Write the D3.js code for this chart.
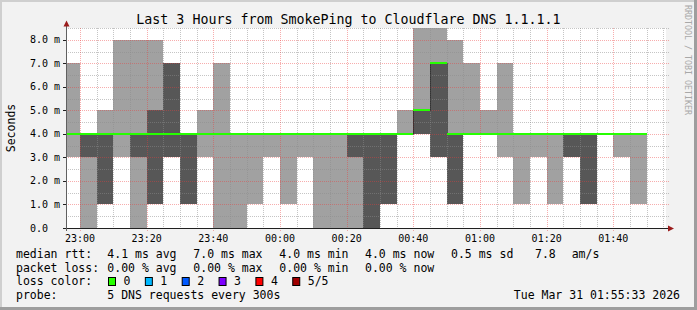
<!DOCTYPE html>
<html>
<head>
<meta charset="utf-8">
<script src="https://cdn.jsdelivr.net/npm/d3@7"></script>
<style>
  html, body { margin: 0; padding: 0; background: #f2f2f2; }
  svg text { font-family: 'DejaVu Sans Mono', monospace; }
</style>
</head>
<body>
<div id="renderer"></div>
<script>
// 5 minute steps, start time of each step
var stepStart = ['22:55', '23:00', '23:05', '23:10', '23:15', '23:20', '23:25', '23:30',
  '23:35', '23:40', '23:45', '23:50', '23:55', '00:00', '00:05', '00:10', '00:15', '00:20',
  '00:25', '00:30', '00:35', '00:40', '00:45', '00:50', '00:55', '01:00', '01:05', '01:10',
  '01:15', '01:20', '01:25', '01:30', '01:35', '01:40', '01:45'];

// sorted ping values (ms) for each step, 5 pings
var ping1 = [3, 0, 1, 3, 0, 1, 3, 1, 3, 0, 0, 1, 3, 1, 3, 0, 0, 0, 0, 1, 4, 4, 3, 1, 4, 4, 3, 1, 3, 1, 3, 1, 4, 3, 1];
var ping2 = [4, 3, 1, 4, 3, 1, 3, 1, 4, 4, 4, 4, 4, 4, 4, 4, 4, 3, 0, 1, 4, 4, 3, 1, 4, 4, 4, 4, 4, 4, 3, 1, 4, 4, 4];
var median = [4, 4, 4, 4, 4, 4, 4, 4, 4, 4, 4, 4, 4, 4, 4, 4, 4, 4, 4, 4, 4, 5, 7, 4, 4, 4, 4, 4, 4, 4, 4, 4, 4, 4, 4];
var ping4 = [4, 4, 4, 4, 4, 5, 7, 4, 4, 4, 4, 4, 4, 4, 4, 4, 4, 4, 4, 4, 4, 5, 7, 4, 4, 4, 4, 4, 4, 4, 4, 4, 4, 4, 4];
var ping5 = [7, 4, 5, 8, 8, 8, 7, 4, 5, 7, 4, 4, 4, 4, 4, 4, 4, 4, 4, 4, 5, 9, 9, 8, 7, 5, 7, 4, 4, 4, 4, 4, 4, 4, 4];

var yTicks = [0, 1, 2, 3, 4, 5, 6, 7, 8];
var yTickLabels = ['0.0', '1.0 m', '2.0 m', '3.0 m', '4.0 m', '5.0 m', '6.0 m', '7.0 m', '8.0 m'];
var xTickLabels = ['23:00', '23:20', '23:40', '00:00', '00:20', '00:40', '01:00', '01:20', '01:40'];

var rttStats = ['4.1 ms avg', '7.0 ms max', '4.0 ms min', '4.0 ms now', '0.5 ms sd', '7.8', 'am/s'];
var lossStats = ['0.00 % avg', '0.00 % max', '0.00 % min', '0.00 % now'];
var lossLabels = ['0', '1', '2', '3', '4', '5/5'];
var lossColors = ['#26ff00', '#00b8ff', '#0059ff', '#7e00ff', '#ff0000', '#a10000'];

var W = 697, H = 310;
var pLeft = 66, pRight = 666, pTop = 28, pBottom = 228;

function parseStep(s) {
  var hm = s.split(':');
  var h = +hm[0];
  return new Date(2026, 2, h >= 12 ? 30 : 31, h, +hm[1], 0);
}

var data = stepStart.map(function (s, i) {
  var t = parseStep(s);
  return {
    t0: t,
    t1: new Date(t.getTime() + 300000),
    p1: ping1[i], p2: ping2[i], med: median[i], p4: ping4[i], p5: ping5[i]
  };
});

var x = d3.scaleTime()
  .domain([new Date(2026, 2, 30, 22, 55, 48), new Date(2026, 2, 31, 1, 55, 48)])
  .range([pLeft, pRight]);
var y = d3.scaleLinear().domain([0, 8.5]).range([pBottom, pTop]);

var svg = d3.select('#renderer').append('svg')
  .attr('width', W).attr('height', H)
  .style('display', 'block');

// background + 3d frame
svg.append('rect').attr('width', W).attr('height', H).attr('fill', '#f2f2f2');
svg.append('path').attr('d', 'M0,0H' + W + 'V2H2V' + H + 'H0Z').attr('fill', '#cfcfcf');
svg.append('path').attr('d', 'M' + W + ',' + H + 'H0V' + (H - 3) + 'H' + (W - 3) + 'V0H' + W + 'Z').attr('fill', '#9e9e9e');

svg.append('defs').append('clipPath').attr('id', 'plotclip')
  .append('rect').attr('x', pLeft).attr('y', pTop)
  .attr('width', pRight - pLeft).attr('height', pBottom - pTop);

svg.append('rect')
  .attr('x', pLeft).attr('y', pTop)
  .attr('width', pRight - pLeft).attr('height', pBottom - pTop)
  .attr('fill', '#ffffff');

var smoke = svg.append('g').attr('clip-path', 'url(#plotclip)');

// smoke: outer pair light, inner pair dark
smoke.selectAll('rect.outer').data(data).enter().append('rect')
  .attr('class', 'outer')
  .attr('x', function (d) { return x(d.t0); })
  .attr('width', function (d) { return x(d.t1) - x(d.t0); })
  .attr('y', function (d) { return y(d.p5); })
  .attr('height', function (d) { return y(d.p1) - y(d.p5); })
  .attr('fill', '#a1a1a1')
  .attr('shape-rendering', 'crispEdges');

smoke.selectAll('rect.inner').data(data).enter().append('rect')
  .attr('class', 'inner')
  .attr('x', function (d) { return x(d.t0); })
  .attr('width', function (d) { return x(d.t1) - x(d.t0); })
  .attr('y', function (d) { return y(d.p4); })
  .attr('height', function (d) { return y(d.p2) - y(d.p4); })
  .attr('fill', '#575757')
  .attr('shape-rendering', 'crispEdges');

// grid on top of smoke
var minorCol = 'rgba(140,140,140,0.5)', majorCol = 'rgba(235,60,60,0.42)';
var grid = svg.append('g');
var minorY = d3.range(0, 8.51, 0.5).filter(function (v) { return v % 1 !== 0; });
grid.selectAll('line.hmin').data(minorY).enter().append('line')
  .attr('x1', pLeft).attr('x2', pRight + 3)
  .attr('y1', function (d) { return Math.round(y(d)) + 0.5; })
  .attr('y2', function (d) { return Math.round(y(d)) + 0.5; })
  .attr('stroke', minorCol).attr('stroke-dasharray', '1,1');

var minorX = x.ticks(d3.timeMinute.every(5)).filter(function (t) { return t.getMinutes() % 20 !== 0; });
grid.selectAll('line.vmin').data(minorX).enter().append('line')
  .attr('x1', function (d) { return Math.round(x(d)) + 0.5; })
  .attr('x2', function (d) { return Math.round(x(d)) + 0.5; })
  .attr('y1', pTop).attr('y2', pBottom)
  .attr('stroke', minorCol).attr('stroke-dasharray', '1,1');

grid.selectAll('line.hmaj').data(yTicks.slice(1)).enter().append('line')
  .attr('x1', pLeft).attr('x2', pRight + 3)
  .attr('y1', function (d) { return Math.round(y(d)) + 0.5; })
  .attr('y2', function (d) { return Math.round(y(d)) + 0.5; })
  .attr('stroke', majorCol).attr('stroke-dasharray', '1,1');

var majorX = x.ticks(d3.timeMinute.every(20));
grid.selectAll('line.vmaj').data(majorX).enter().append('line')
  .attr('x1', function (d) { return Math.round(x(d)) + 0.5; })
  .attr('x2', function (d) { return Math.round(x(d)) + 0.5; })
  .attr('y1', pTop).attr('y2', pBottom + 3)
  .attr('stroke', majorCol).attr('stroke-dasharray', '1,1');

// median: dark step line, then loss coloured band (above the grid)
var med = svg.append('g').attr('clip-path', 'url(#plotclip)');
var medLine = d3.line()
  .x(function (d) { return Math.round(x(d.t)) + 0.5; })
  .y(function (d) { return Math.round(y(d.v)) + 0.5; })
  .curve(d3.curveStepAfter);
var medPts = data.map(function (d) { return { t: d.t0, v: d.med }; });
medPts.push({ t: data[data.length - 1].t1, v: data[data.length - 1].med });
med.append('path')
  .attr('d', medLine(medPts))
  .attr('fill', 'none')
  .attr('stroke', '#101010')
  .attr('stroke-dasharray', '1,1');

med.selectAll('rect.med').data(data).enter().append('rect')
  .attr('class', 'med')
  .attr('x', function (d) { return x(d.t0); })
  .attr('width', function (d) { return x(d.t1) - x(d.t0); })
  .attr('y', function (d) { return Math.round(y(d.med)) - 1; })
  .attr('height', 2)
  .attr('fill', lossColors[0])
  .attr('shape-rendering', 'crispEdges');

// axes
var axisCol = '#202020', arrowCol = '#9b1c1c';
svg.append('line')
  .attr('x1', pLeft - 3).attr('x2', pRight + 3)
  .attr('y1', pBottom + 0.5).attr('y2', pBottom + 0.5)
  .attr('stroke', axisCol);
svg.append('line')
  .attr('x1', pLeft + 0.5).attr('x2', pLeft + 0.5)
  .attr('y1', pBottom + 3).attr('y2', pTop - 2)
  .attr('stroke', '#606060');
svg.append('path')
  .attr('d', 'M' + (pRight + 2) + ',' + (pBottom - 2.5) + 'L' + (pRight + 8) + ',' + (pBottom + 0.5) + 'L' + (pRight + 2) + ',' + (pBottom + 3.5) + 'Z')
  .attr('fill', arrowCol);
svg.append('path')
  .attr('d', 'M' + (pLeft - 2.5) + ',' + (pTop - 1.5) + 'L' + (pLeft + 0.5) + ',' + (pTop - 7.5) + 'L' + (pLeft + 3.5) + ',' + (pTop - 1.5) + 'Z')
  .attr('fill', arrowCol);

svg.selectAll('line.ytick').data(yTicks).enter().append('line')
  .attr('x1', pLeft - 3).attr('x2', pLeft)
  .attr('y1', function (d) { return Math.round(y(d)) + 0.5; })
  .attr('y2', function (d) { return Math.round(y(d)) + 0.5; })
  .attr('stroke', axisCol);

svg.selectAll('text.ylab').data(yTicks).enter().append('text')
  .attr('x', 30)
  .attr('y', function (d) { return y(d) + 3.5; })
  .attr('font-size', 10)
  .attr('fill', '#000')
  .text(function (d, i) { return yTickLabels[i]; });

svg.selectAll('text.xlab').data(majorX).enter().append('text')
  .attr('x', function (d) { return x(d); })
  .attr('y', 241.5)
  .attr('font-size', 10)
  .attr('text-anchor', 'middle')
  .attr('fill', '#000')
  .text(function (d, i) { return xTickLabels[i]; });

// title and side texts
svg.append('text')
  .attr('x', W / 2).attr('y', 23.5)
  .attr('text-anchor', 'middle')
  .attr('font-size', 13.3)
  .attr('fill', '#000')
  .text('Last 3 Hours from SmokePing to Cloudflare DNS 1.1.1.1');

svg.append('text')
  .attr('transform', 'translate(15,128) rotate(-90)')
  .attr('text-anchor', 'middle')
  .attr('font-size', 11.5)
  .attr('fill', '#000')
  .text('Seconds');

svg.append('text')
  .attr('transform', 'translate(684.5,5) rotate(90)')
  .attr('font-size', 8.3)
  .attr('fill', '#a8a8a8')
  .text('RRDTOOL / TOBI OETIKER');

// legend
var legend = svg.append('g').attr('font-size', 11.5).attr('fill', '#000');
var rowY = [258, 271.6, 285.2, 298.8];
var statX = [107.3, 193.3, 279.3, 365, 451, 535, 571.7];

legend.append('text').attr('x', 16).attr('y', rowY[0]).text('median rtt:');
legend.selectAll('text.rtt').data(rttStats).enter().append('text')
  .attr('x', function (d, i) { return statX[i]; })
  .attr('y', rowY[0])
  .text(function (d) { return d; });

legend.append('text').attr('x', 16).attr('y', rowY[1]).text('packet loss:');
legend.selectAll('text.loss').data(lossStats).enter().append('text')
  .attr('x', function (d, i) { return statX[i]; })
  .attr('y', rowY[1])
  .text(function (d) { return d; });

legend.append('text').attr('x', 16).attr('y', rowY[2]).text('loss color:');
var swatch = legend.selectAll('g.sw').data(lossLabels).enter().append('g')
  .attr('transform', function (d, i) { return 'translate(' + (108.5 + i * 36.85) + ',0)'; });
swatch.append('rect')
  .attr('x', 0).attr('y', 277.5)
  .attr('width', 7).attr('height', 8)
  .attr('fill', function (d, i) { return lossColors[i]; })
  .attr('stroke', '#000');
swatch.append('text')
  .attr('x', 15).attr('y', rowY[2])
  .text(function (d) { return d; });

legend.append('text').attr('x', 16).attr('y', rowY[3]).text('probe:');
legend.append('text').attr('x', 107.3).attr('y', rowY[3]).text('5 DNS requests every 300s');
legend.append('text').attr('x', 680).attr('y', rowY[3]).attr('text-anchor', 'end')
  .text('Tue Mar 31 01:55:33 2026');
</script>
</body>
</html>
